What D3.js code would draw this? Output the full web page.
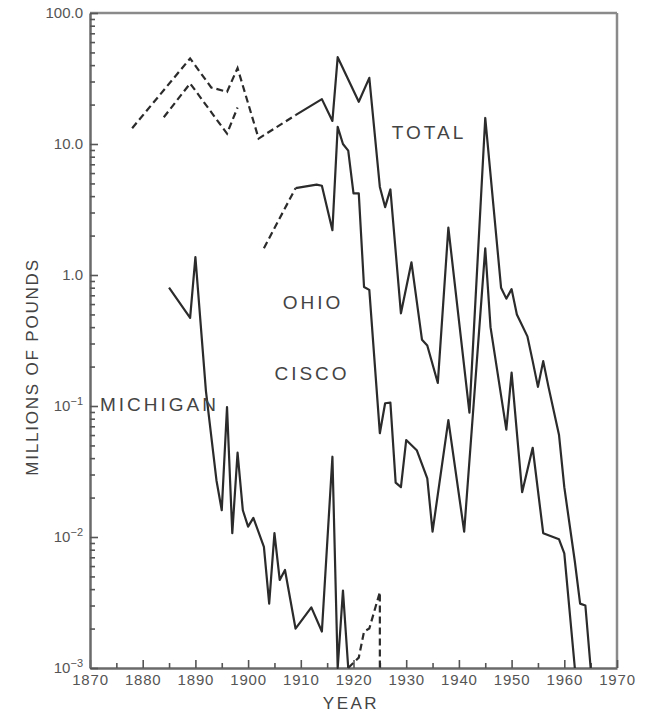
<!DOCTYPE html>
<html>
<head>
<meta charset="utf-8">
<script src="https://cdn.jsdelivr.net/npm/d3@7"></script>
<style>
  body { margin: 0; background: #fff; }
  svg { display: block; font-family: "Liberation Sans", Arial, sans-serif; }
</style>
</head>
<body>
<svg id="chart" width="652" height="713"></svg>
<script>
// [year, millions of pounds]
const totalEarly = [[1878, 13.2], [1889, 45], [1893, 27], [1896, 25], [1898, 38], [1902, 11], [1909, 16.6]];
const totalMain = [[1909, 16.6], [1914, 22], [1916, 15], [1917, 46], [1921, 21], [1923, 32], [1925, 4.7], [1926, 3.3],
  [1927, 4.5], [1929, 0.51], [1931, 1.25], [1933, 0.32], [1934, 0.29], [1936, 0.15], [1938, 2.3], [1942, 0.089],
  [1945, 15.8], [1948, 0.80], [1949, 0.66], [1950, 0.78], [1951, 0.50], [1953, 0.34], [1954, 0.22], [1955, 0.14],
  [1956, 0.22], [1957, 0.14], [1959, 0.06], [1960, 0.024], [1962, 0.0065], [1963, 0.0031], [1964, 0.0030], [1965, 0.001]];

const ohioEarly = [[1884, 16], [1889, 29], [1896, 12], [1898, 19]];
const ohioMid = [[1903, 1.6], [1909, 4.6]];
const ohioMain = [[1909, 4.6], [1913, 4.9], [1914, 4.8], [1916, 2.2], [1917, 13.5], [1918, 10], [1919, 8.9], [1920, 4.2],
  [1921, 4.2], [1922, 0.81], [1923, 0.77], [1925, 0.062], [1926, 0.105], [1927, 0.106], [1928, 0.026], [1929, 0.024],
  [1930, 0.055], [1932, 0.046], [1934, 0.028], [1935, 0.011], [1938, 0.078], [1941, 0.011], [1945, 1.6], [1946, 0.4],
  [1949, 0.066], [1950, 0.18], [1952, 0.022], [1954, 0.048], [1956, 0.0107], [1959, 0.0096], [1960, 0.0075], [1962, 0.001]];

const michiganMain = [[1885, 0.80], [1889, 0.47], [1890, 1.37], [1892, 0.13], [1894, 0.027], [1895, 0.016], [1896, 0.098],
  [1897, 0.0107], [1898, 0.044], [1899, 0.016], [1900, 0.012], [1901, 0.014], [1903, 0.0084], [1904, 0.0031],
  [1905, 0.0107], [1906, 0.0047], [1907, 0.0056], [1909, 0.0020], [1912, 0.0029], [1914, 0.0019], [1916, 0.041],
  [1917, 0.001], [1918, 0.0039], [1919, 0.001]];
const michiganLate = [[1919, 0.001], [1921, 0.0012], [1922, 0.0019], [1923, 0.0020], [1925, 0.0038], [1925, 0.001]];

const xMajorTicks = [1870, 1880, 1890, 1900, 1910, 1920, 1930, 1940, 1950, 1960, 1970];
const xMinorTicks = [1875, 1885, 1895, 1905, 1915, 1925, 1935, 1945, 1955, 1965];
const yMajorTicks = [100, 10, 1, 0.1, 0.01, 0.001];
const yTickBase = ['100.0', '10.0', '1.0', '10', '10', '10'];
const yTickExp = ['', '', '', '\u22121', '\u22122', '\u22123'];

const svg = d3.select('#chart');
const x = d3.scaleLinear().domain([1870, 1970]).range([90, 617]);
const y = d3.scaleLog().domain([0.001, 100]).range([668, 13]);

const yMinor = [];
yMajorTicks.slice(1).forEach(d => { for (let k = 2; k <= 9; k++) yMinor.push(d * k); });

// frame: top and right
svg.append('line').attr('x1', x(1870)).attr('x2', x(1970)).attr('y1', y(100)).attr('y2', y(100))
  .attr('stroke', '#8a8a8a').attr('stroke-width', 2.5);
svg.append('line').attr('x1', x(1970)).attr('x2', x(1970)).attr('y1', y(100)).attr('y2', y(0.001))
  .attr('stroke', '#8a8a8a').attr('stroke-width', 2.5);

// x axis
const gx = svg.append('g').attr('transform', `translate(0,${y(0.001)})`)
  .call(d3.axisBottom(x).tickValues(xMajorTicks).tickSize(-8).tickSizeOuter(0).tickPadding(6).tickFormat(d3.format('d')));
svg.append('g').attr('transform', `translate(0,${y(0.001)})`)
  .call(d3.axisBottom(x).tickValues(xMinorTicks).tickSize(-5).tickSizeOuter(0).tickFormat(''))
  .call(g => g.select('.domain').remove());

// y axis
svg.append('g').attr('transform', `translate(${x(1870)},0)`)
  .call(d3.axisLeft(y).tickValues(yMajorTicks).tickSize(-8).tickSizeOuter(0).tickFormat(''));
svg.append('g').attr('transform', `translate(${x(1870)},0)`)
  .call(d3.axisLeft(y).tickValues(yMinor).tickSize(-5).tickFormat(''))
  .call(g => g.select('.domain').remove());

svg.selectAll('.domain').attr('stroke', '#6a6a6a').attr('stroke-width', 2.5);
svg.selectAll('.tick line').attr('stroke', '#555').attr('stroke-width', 1.6);
gx.selectAll('.tick text').attr('font-size', 15).attr('fill', '#555').attr('letter-spacing', 0.8);

const yLabels = svg.append('g').attr('fill', '#555').attr('font-size', 15);
yMajorTicks.forEach((v, i) => {
  const t = yLabels.append('text').attr('x', 83).attr('y', y(v)).attr('dy', '0.35em').attr('text-anchor', 'end');
  t.append('tspan').text(yTickBase[i]);
  if (yTickExp[i]) t.append('tspan').attr('font-size', 11).attr('dy', '-0.6em').text(yTickExp[i]);
});

// series
const line = d3.line().x(d => x(d[0])).y(d => y(d[1]));
const solid = [totalMain, ohioMain, michiganMain];
const dashed = [totalEarly, ohioEarly, ohioMid, michiganLate];
svg.append('g').selectAll('path').data(solid).join('path')
  .attr('d', line).attr('fill', 'none').attr('stroke', '#2b2b2b').attr('stroke-width', 2.2)
  .attr('stroke-linejoin', 'round');
svg.append('g').selectAll('path').data(dashed).join('path')
  .attr('d', line).attr('fill', 'none').attr('stroke', '#2b2b2b').attr('stroke-width', 2.2)
  .attr('stroke-dasharray', '7,4');

// series labels
const lab = svg.append('g').attr('fill', '#444').attr('font-size', 19).attr('letter-spacing', 3);
lab.append('text').attr('x', 429).attr('y', 132).attr('dy', '0.35em').attr('text-anchor', 'middle').text('TOTAL');
lab.append('text').attr('x', 313).attr('y', 302).attr('dy', '0.35em').attr('text-anchor', 'middle').text('OHIO');
lab.append('text').attr('x', 312).attr('y', 373).attr('dy', '0.35em').attr('text-anchor', 'middle').text('CISCO');
lab.append('text').attr('x', 100).attr('y', 404).attr('dy', '0.35em').text('MICHIGAN');

// axis titles
svg.append('text').attr('transform', 'translate(32,367) rotate(-90)').attr('text-anchor', 'middle')
  .attr('dy', '0.35em').attr('font-size', 17).attr('letter-spacing', 1.8).attr('fill', '#444').text('MILLIONS OF POUNDS');
svg.append('text').attr('x', 351).attr('y', 703).attr('text-anchor', 'middle').attr('dy', '0.35em')
  .attr('font-size', 17).attr('letter-spacing', 2.5).attr('fill', '#444').text('YEAR');
</script>
</body>
</html>
